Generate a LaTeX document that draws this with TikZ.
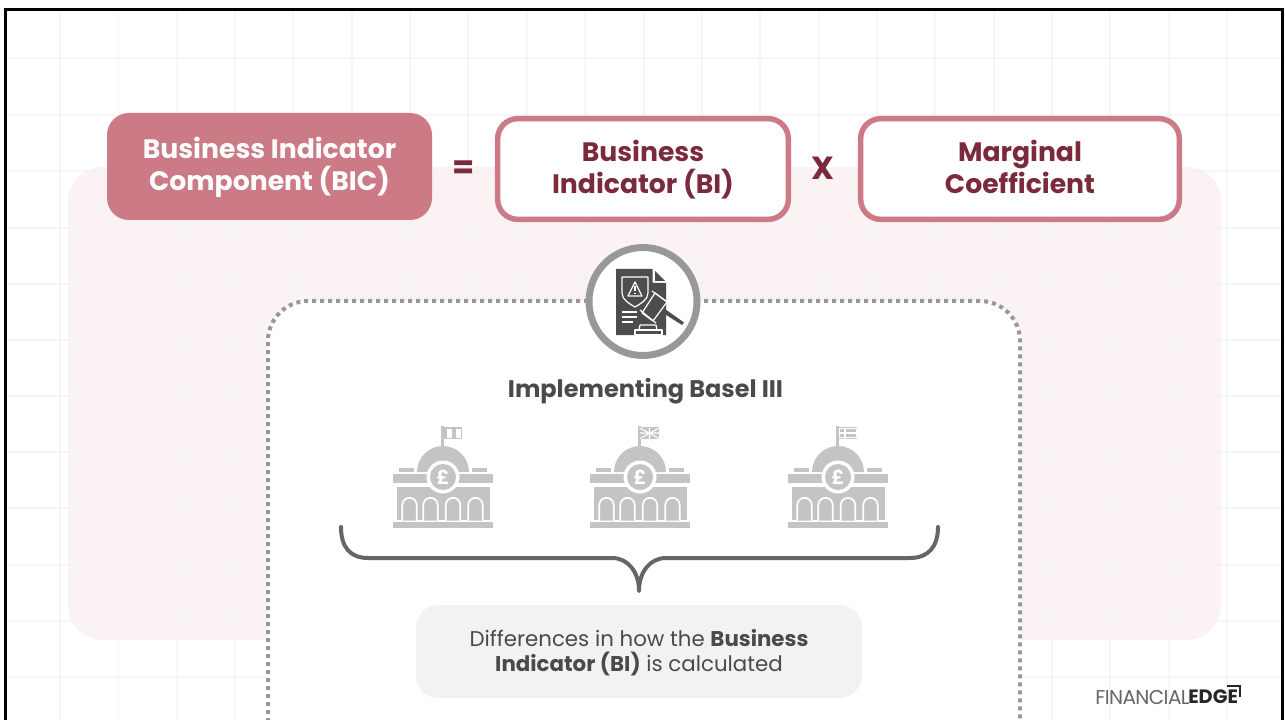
\documentclass[tikz,border=0pt]{standalone}
\usepackage{fontspec}
\setmainfont{Poppins}
\usetikzlibrary{calc}
\definecolor{rosefill}{HTML}{CB7A86}
\definecolor{rosedark}{HTML}{7B2A3B}
\definecolor{pinkbg}{HTML}{FBF2F3}
\definecolor{gridc}{HTML}{F3F3F3}
\definecolor{bankgrey}{HTML}{C4C4C4}
\definecolor{txtgrey}{HTML}{4A4A4A}
\definecolor{icondark}{HTML}{4D4D4D}
\definecolor{ringgrey}{HTML}{989898}
\tikzset{
  px/.style={x=0.75pt,y=-0.75pt},
  roseoutline/.style={draw=rosefill,line width=4.1pt,fill=white,rounded corners=15pt,inner sep=0pt,align=center,text=rosedark,font=\fontsize{20}{24}\selectfont\bfseries},
  rosesolid/.style={fill=rosefill,rounded corners=16.5pt,inner sep=0pt,align=center,text=white,font=\fontsize{20}{24}\selectfont\bfseries},
  opsign/.style={text=rosedark,font=\fontsize{24}{24}\selectfont\bfseries,inner sep=0pt},
  bankfill/.style={fill=bankgrey,draw=none},
  whiteln/.style={draw=white,line width=1.1pt},
  icline/.style={draw=white,line width=0.9pt,line join=round}
}
\newcommand{\bankicon}[3]{%
\begin{scope}[shift={(#1,0)}]
  \fill[bankgrey] (-2,426) rectangle (0.6,447);
  \fill[bankgrey] (-2,427) rectangle (19,439);
  #2
  \fill[bankgrey] (-26,472) arc[start angle=180,end angle=360,radius=26] -- cycle;
  \fill[bankfill] (-44,468) rectangle (-29,471.5);
  \fill[bankfill] (29,468) rectangle (44,471.5);
  \fill[bankfill] (-50,474) rectangle (50,483);
  \fill[bankfill] (-46,487) rectangle (47,520);
  \fill[bankfill] (-50,522) rectangle (50,528);
  \foreach \ax in {-33.5,-12.5,10,32.5}{
    \draw[whiteln,line width=1.3pt,fill=bankgrey] (\ax-7.2,520.5) -- (\ax-7.2,505) arc[start angle=180,end angle=360,radius=7.2] -- (\ax+7.2,520.5);
  }
  \fill[white] (0,477) circle[radius=16.5];
  \fill[bankgrey] (0,477) circle[radius=13];
  \node[text=white,inner sep=0pt,font=\fontsize{14.5}{16}\selectfont\bfseries] (#3) at (0,477) {£};
\end{scope}}
\begin{document}
\begin{tikzpicture}[px]
\useasboundingbox (0,0) rectangle (1285,720);
\fill[white] (0,0) rectangle (1285,720);
% pink panel
\fill[pinkbg] (68,640) [rounded corners=26pt] -- (68,167) -- (1221,167) -- (1221,640) -- cycle;
% faint grid
\begin{scope}[gridc,line width=1pt]
\foreach \gx in {60,118.5,177,235,293,352,410,468,527,585,644,702,760,819,877,935,994,1052,1110,1169,1227}{\draw[opacity=.75] (\gx,10) -- (\gx,720);}
\foreach \gy in {58,115,171,228,284,340,396,452,508,565,621,677}{\draw[opacity=.75] (6,\gy) -- (1282,\gy);}
\end{scope}
% dotted panel
\fill[white] (268,720) [rounded corners=30pt] -- (268,301) -- (1020,301) -- (1020,720);
\draw[ringgrey,line width=3pt,dash pattern=on 3pt off 3pt] (268,722) [rounded corners=30pt] -- (268,301) -- (1020,301) -- (1020,722);
% frame
\draw[black,line width=2.3pt] (5.5,722) -- (5.5,9.5) -- (1282.5,9.5) -- (1282.5,722);
% top equation
\node[rosesolid,minimum width=243.75pt,minimum height=80.25pt] (bic) at (269.5,166.5) {\rule{0pt}{17pt}Business Indicator\\Component (BIC)};
\node[opsign] (eq) at (464,169.5) {=};
\node[roseoutline,minimum width=218pt,minimum height=75.5pt] (bi) at (643,169) {\rule{0pt}{16.7pt}Business\\Indicator (BI)};
\node[opsign] (times) at (823,168) {X};
\node[roseoutline,minimum width=239pt,minimum height=75.5pt] (mc) at (1020,169) {\rule{0pt}{16.7pt}Marginal\\Coefficient\vphantom{(}};
% badge
\node[circle,draw=ringgrey,line width=5.2pt,fill=white,minimum size=81pt,inner sep=0pt] (badge) at (643,301.5) {};
\fill[icondark] (616,269) -- (652.5,269) -- (652.5,283) -- (666,283) -- (666,335) -- (616,335) -- cycle;
\fill[icondark] (655,271) -- (665,281) -- (655,281) -- cycle;
\draw[icline] (622,277) -- (648,277) -- (648,293) .. controls (648,300) and (640,304) .. (635,307) .. controls (630,304) and (622,300) .. (622,293) -- cycle;
\draw[icline] (635,282) -- (642,296) -- (628,296) -- cycle;
\draw[white,line width=1pt] (635,286.5) -- (635,291.5) (635,293) -- (635,294.2);
\draw[icline] (622,312) -- (637,312) (622,317) -- (637,317) (622,322) -- (633,322);
\fill[icondark] (658,304) -- (684,322.5) -- (682,325) -- (655,308) -- cycle;
\draw[icline,fill=icondark] (655,293) -- (667,302) -- (653,321) -- (642,313) -- cycle;
\draw[icline] (652,291) -- (670,304) (640,310) -- (656,323);
\draw[icline,fill=icondark] (640,325) -- (656,325) -- (657,330) -- (639,330) -- cycle;
\draw[icline,fill=icondark] (635,330) -- (662,330) -- (662,335) -- (635,335) -- cycle;
% heading
\node[text=txtgrey,inner sep=0pt,font=\fontsize{18}{22}\selectfont\bfseries] (head) at (645.5,391) {Implementing Basel III};
% banks
\bankicon{443}{\fill[white] (4,428.5) rectangle (8.5,437.5); \fill[white] (13,428.5) rectangle (17.5,437.5);}{bankA}
\bankicon{640}{\draw[white,line width=.8pt] (0,428) -- (19,438.5) (0,438.5) -- (19,428) (9.5,427.5) -- (9.5,439) (0,433) -- (19,433);}{bankB}
\bankicon{838}{\draw[white,line width=1pt] (7,427.5) -- (7,439) (1,433) -- (18,433); \draw[white,line width=.5pt] (1,428.5) rectangle (18,437.5);}{bankC}
% brace
\coordinate (braceL) at (341,527);
\coordinate (braceR) at (938,527);
\coordinate (braceTip) at (639,591);
\draw[draw=black!60,line width=3pt,line cap=round,line join=round]
  (braceL) .. controls (341,547) and (350,558) .. (368,558) -- (612,558) .. controls (628,558) and (639,572) .. (braceTip)
  .. controls (639,572) and (650,558) .. (666,558) -- (910,558) .. controls (928,558) and (938,547) .. (braceR);
% grey pill
\node[fill=black!5,rounded corners=17pt,minimum width=334.5pt,minimum height=69.75pt,inner sep=0pt,align=center,text=txtgrey,font=\fontsize{16}{18.7}\selectfont] (note) at (639,651.5) {\rule{0pt}{14pt}Differences in how the \textbf{Business}\\\textbf{Indicator (BI)} is calculated};
% logo
\node[anchor=west,inner sep=0pt,text=black!60,font=\fontsize{15}{15}\selectfont] (logoA) at (1095,697) {\addfontfeature{LetterSpace=-3}FINANCIAL};
\node[anchor=west,inner sep=0pt,text=black!85,font=\fontsize{14.5}{15}\selectfont\bfseries] (logoB) at (1188,697) {EDGE};
\draw[black!85,line width=1.5pt] (1227,686) -- (1240,686) -- (1240,697);
\end{tikzpicture}
\end{document}
